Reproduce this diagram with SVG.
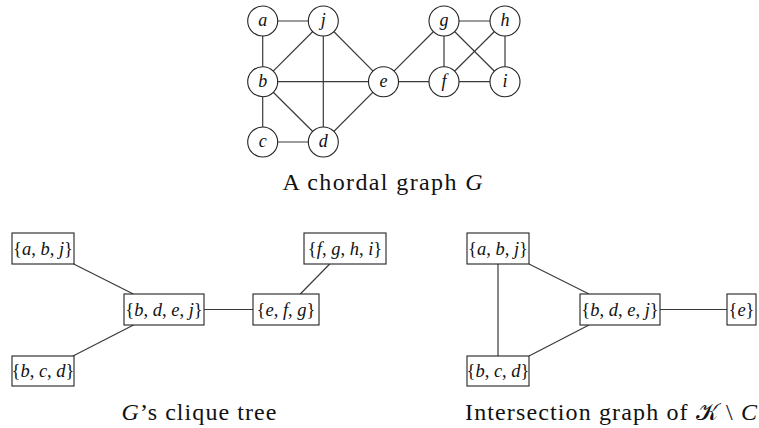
<svg xmlns="http://www.w3.org/2000/svg" width="759" height="428" viewBox="0 0 759 428">
<style>
.edge{stroke:#3a3a3a;stroke-width:1.2;fill:none}
.vert circle{fill:#fff;stroke:#222;stroke-width:1.1}
.vert text{font-family:"Liberation Serif","DejaVu Serif",serif;font-style:italic;font-size:18px;text-anchor:middle;fill:#111}
.box rect{fill:#fff;stroke:#222;stroke-width:1.1}
.box text{font-family:"Liberation Serif","DejaVu Serif",serif;font-size:18.5px;text-anchor:middle;fill:#111}
.box tspan.i{font-style:italic}
.cap{font-family:"Liberation Serif","DejaVu Serif",serif;font-size:24px;text-anchor:middle;fill:#111}
.cap tspan.i{font-style:italic}
</style>
<rect width="759" height="428" fill="#fff"/>
<g id="connectors">
<line class="edge" x1="262.7" y1="21" x2="323.3" y2="21"/>
<line class="edge" x1="262.7" y1="21" x2="262.7" y2="81.7"/>
<line class="edge" x1="262.7" y1="81.7" x2="323.3" y2="21"/>
<line class="edge" x1="323.3" y1="21" x2="323.3" y2="142"/>
<line class="edge" x1="323.3" y1="21" x2="383.5" y2="81.7"/>
<line class="edge" x1="262.7" y1="81.7" x2="383.5" y2="81.7"/>
<line class="edge" x1="262.7" y1="81.7" x2="262.7" y2="142"/>
<line class="edge" x1="262.7" y1="81.7" x2="323.3" y2="142"/>
<line class="edge" x1="262.7" y1="142" x2="323.3" y2="142"/>
<line class="edge" x1="323.3" y1="142" x2="383.5" y2="81.7"/>
<line class="edge" x1="383.5" y1="81.7" x2="444" y2="21"/>
<line class="edge" x1="383.5" y1="81.7" x2="444" y2="81.7"/>
<line class="edge" x1="444" y1="21" x2="505" y2="21"/>
<line class="edge" x1="444" y1="21" x2="444" y2="81.7"/>
<line class="edge" x1="444" y1="21" x2="505" y2="81.7"/>
<line class="edge" x1="505" y1="21" x2="444" y2="81.7"/>
<line class="edge" x1="505" y1="21" x2="505" y2="81.7"/>
<line class="edge" x1="444" y1="81.7" x2="505" y2="81.7"/>
<line class="edge" x1="73.7" y1="264" x2="133.3" y2="294"/>
<line class="edge" x1="73" y1="356" x2="133.5" y2="325"/>
<line class="edge" x1="204" y1="309.5" x2="253" y2="309.5"/>
<line class="edge" x1="300.3" y1="294" x2="329.7" y2="264"/>
<line class="edge" x1="498" y1="264" x2="498" y2="356"/>
<line class="edge" x1="529" y1="264" x2="589" y2="294"/>
<line class="edge" x1="529" y1="356" x2="589" y2="325"/>
<line class="edge" x1="660" y1="309.5" x2="727" y2="309.5"/>
</g>
<g id="node-a" class="vert"><circle cx="262.7" cy="21" r="15"/><text x="262.7" y="26">a</text></g>
<g id="node-j" class="vert"><circle cx="323.3" cy="21" r="15"/><text x="323.3" y="26">j</text></g>
<g id="node-g" class="vert"><circle cx="444" cy="21" r="15"/><text x="444" y="26">g</text></g>
<g id="node-h" class="vert"><circle cx="505" cy="21" r="15"/><text x="505" y="26">h</text></g>
<g id="node-b" class="vert"><circle cx="262.7" cy="81.7" r="15"/><text x="262.7" y="86.7">b</text></g>
<g id="node-e" class="vert"><circle cx="383.5" cy="81.7" r="15"/><text x="383.5" y="86.7">e</text></g>
<g id="node-f" class="vert"><circle cx="444" cy="81.7" r="15"/><text x="444" y="86.7">f</text></g>
<g id="node-i" class="vert"><circle cx="505" cy="81.7" r="15"/><text x="505" y="86.7">i</text></g>
<g id="node-c" class="vert"><circle cx="262.7" cy="142" r="15"/><text x="262.7" y="147">c</text></g>
<g id="node-d" class="vert"><circle cx="323.3" cy="142" r="15"/><text x="323.3" y="147">d</text></g>
<text class="cap" x="382.5" y="190" textLength="200" lengthAdjust="spacing">A chordal graph <tspan class="i">G</tspan></text>
<g id="t-abj" class="box"><rect x="12" y="233" width="62" height="31"/><text x="43" y="254.5">{<tspan class="i">a</tspan>, <tspan class="i">b</tspan>, <tspan class="i">j</tspan>}</text></g>
<g id="t-bdej" class="box"><rect x="124" y="294" width="80" height="31"/><text x="164" y="315.5">{<tspan class="i">b</tspan>, <tspan class="i">d</tspan>, <tspan class="i">e</tspan>, <tspan class="i">j</tspan>}</text></g>
<g id="t-efg" class="box"><rect x="253" y="294" width="66" height="31"/><text x="286" y="315.5">{<tspan class="i">e</tspan>, <tspan class="i">f</tspan>, <tspan class="i">g</tspan>}</text></g>
<g id="t-fghi" class="box"><rect x="304" y="233" width="82" height="31"/><text x="345" y="254.5">{<tspan class="i">f</tspan>, <tspan class="i">g</tspan>, <tspan class="i">h</tspan>, <tspan class="i">i</tspan>}</text></g>
<g id="t-bcd" class="box"><rect x="12" y="356" width="62" height="30"/><text x="43" y="377">{<tspan class="i">b</tspan>, <tspan class="i">c</tspan>, <tspan class="i">d</tspan>}</text></g>
<text class="cap" x="199" y="420" textLength="155" lengthAdjust="spacing"><tspan class="i">G</tspan>’s clique tree</text>
<g id="k-abj" class="box"><rect x="467" y="233" width="62" height="31"/><text x="498" y="254.5">{<tspan class="i">a</tspan>, <tspan class="i">b</tspan>, <tspan class="i">j</tspan>}</text></g>
<g id="k-bdej" class="box"><rect x="580" y="294" width="80" height="31"/><text x="620" y="315.5">{<tspan class="i">b</tspan>, <tspan class="i">d</tspan>, <tspan class="i">e</tspan>, <tspan class="i">j</tspan>}</text></g>
<g id="k-e" class="box"><rect x="727" y="294" width="29" height="31"/><text x="741.5" y="315.5">{<tspan class="i">e</tspan>}</text></g>
<g id="k-bcd" class="box"><rect x="467" y="356" width="62" height="30"/><text x="498" y="377">{<tspan class="i">b</tspan>, <tspan class="i">c</tspan>, <tspan class="i">d</tspan>}</text></g>
<text class="cap" x="611" y="420" textLength="292" lengthAdjust="spacing">Intersection graph of <tspan>𝒦</tspan> \ <tspan class="i">C</tspan></text>
</svg>
